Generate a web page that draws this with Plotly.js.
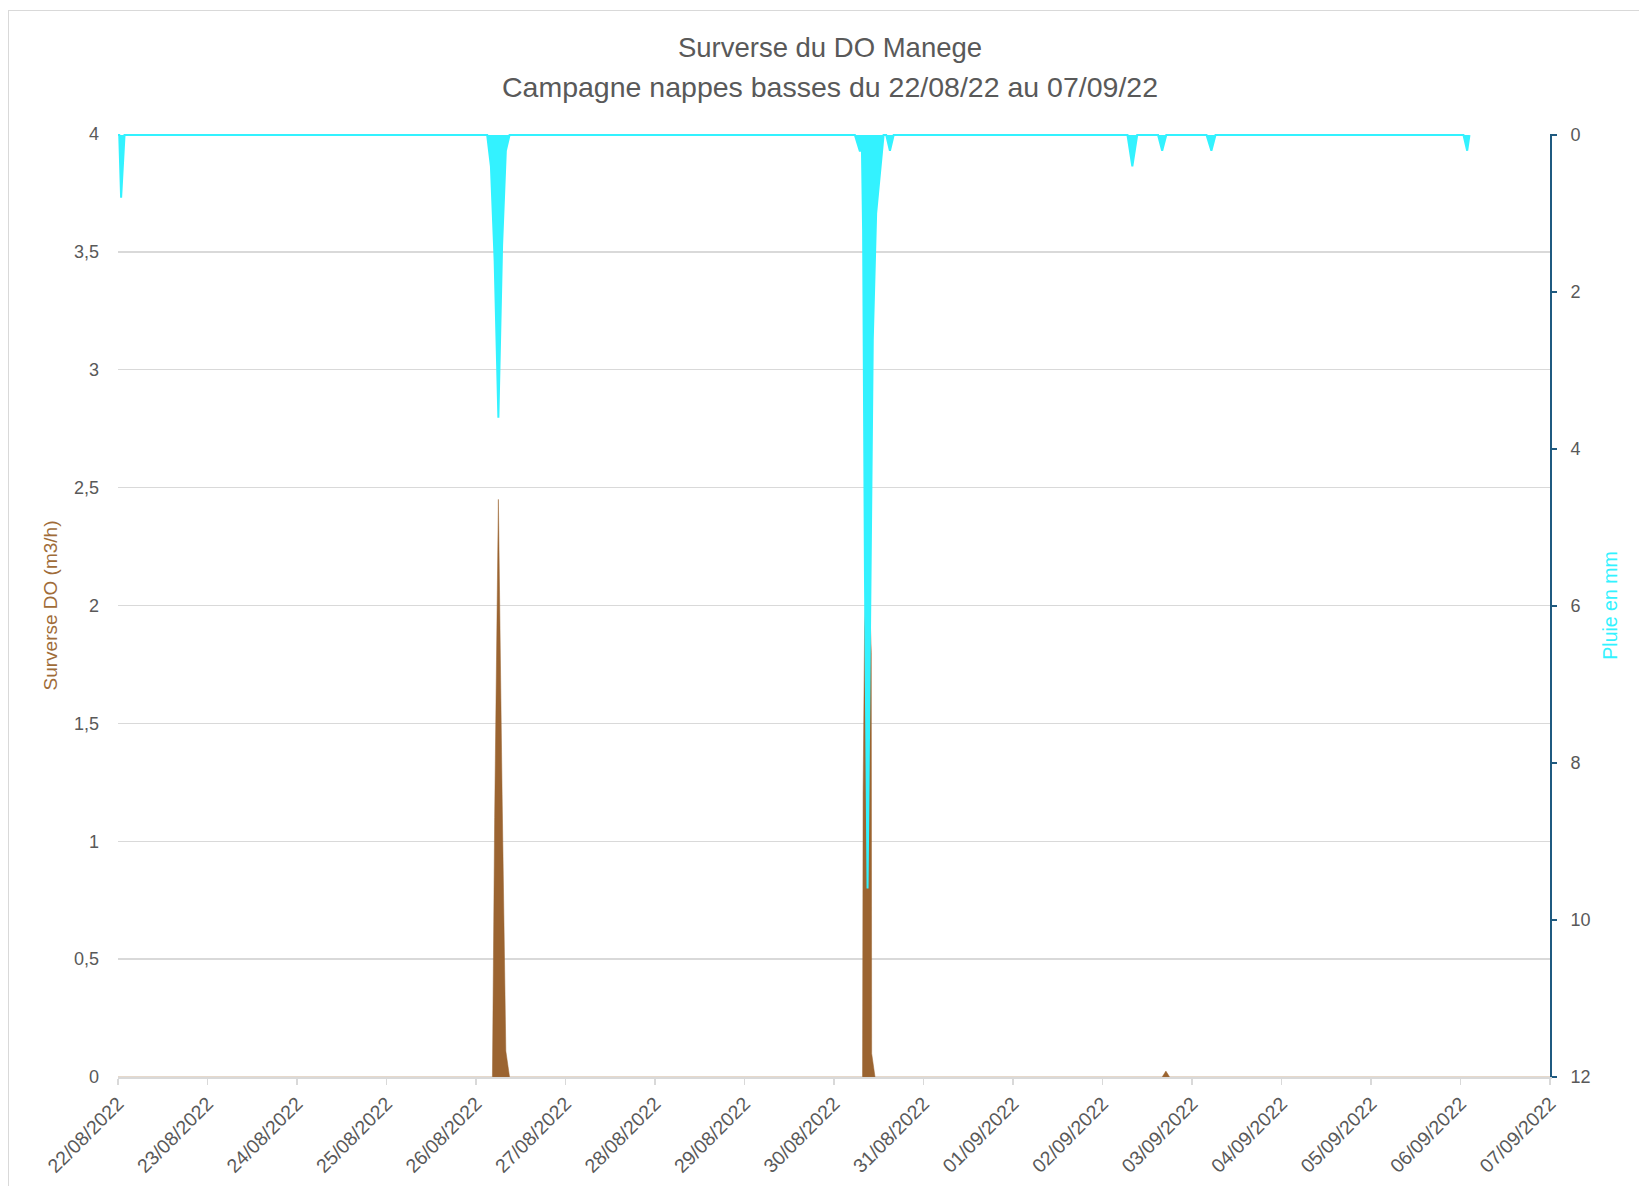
<!DOCTYPE html>
<html>
<head>
<meta charset="utf-8">
<script src="https://cdn.plot.ly/plotly-3.0.1.min.js"></script>
<style>
  html, body { margin: 0; padding: 0; background: #ffffff; overflow: hidden; }
  #frame { position: absolute; left: 8px; top: 10px; width: 1700px; height: 1300px; border: 1.5px solid #d9d9d9; box-sizing: border-box; }
  #chart { position: absolute; left: 0; top: 0; width: 1639px; height: 1186px; }
</style>
</head>
<body>
<div id="frame"></div>
<div id="chart"></div>
<script>
// ---- Data ----
// Rain (mm), right axis (reversed)
const rainTime = [
  '2022-08-22 00:00', '2022-08-22 00:20', '2022-08-22 00:50', '2022-08-22 01:45',
  '2022-08-26 03:00', '2022-08-26 04:00', '2022-08-26 05:00', '2022-08-26 06:00',
  '2022-08-26 07:00', '2022-08-26 08:00', '2022-08-26 09:00',
  '2022-08-30 05:36', '2022-08-30 06:54', '2022-08-30 07:30', '2022-08-30 07:48', '2022-08-30 08:18',
  '2022-08-30 09:00', '2022-08-30 10:00', '2022-08-30 10:24', '2022-08-30 11:18',
  '2022-08-30 13:18', '2022-08-30 14:00', '2022-08-30 15:00', '2022-08-30 16:00',
  '2022-09-02 06:42', '2022-09-02 08:00', '2022-09-02 09:18',
  '2022-09-02 14:54', '2022-09-02 16:00', '2022-09-02 17:06',
  '2022-09-03 03:54', '2022-09-03 05:12', '2022-09-03 06:18',
  '2022-09-06 00:48', '2022-09-06 01:48', '2022-09-06 02:24'
];
const rainMm = [
  0, 0, 0.8, 0,
  0, 0.4, 1.6, 3.6,
  1.4, 0.2, 0,
  0, 0.2, 0.2, 1.2, 5.6,
  9.6, 4.4, 2.6, 1.0,
  0, 0, 0.2, 0,
  0, 0.4, 0,
  0, 0.2, 0,
  0, 0.2, 0,
  0, 0.2, 0
];

// DO overflow (m3/h), left axis
const overflowTime = [
  '2022-08-22 00:00',
  '2022-08-26 04:24', '2022-08-26 05:00', '2022-08-26 06:00', '2022-08-26 07:00',
  '2022-08-26 08:00', '2022-08-26 09:00',
  '2022-08-30 07:39', '2022-08-30 07:48', '2022-08-30 08:12', '2022-08-30 09:00',
  '2022-08-30 10:00', '2022-08-30 10:06', '2022-08-30 11:00',
  '2022-09-02 16:00', '2022-09-02 17:00', '2022-09-02 18:00',
  '2022-09-07 00:00'
];
const overflowM3h = [
  0,
  0, 1.1, 2.45, 1.2,
  0.11, 0,
  0, 1.2, 1.9, 2.3,
  1.8, 0.1, 0,
  0, 0.025, 0,
  0
];

const titleLine1 = 'Surverse du DO Manege';
const titleLine2 = 'Campagne nappes basses du 22/08/22 au 07/09/22';
const leftAxisTitle = 'Surverse DO (m3/h)';
const rightAxisTitle = 'Pluie en mm';

// ---- Styles ----
const FONT = '"Liberation Sans", Arial, sans-serif';
const GREY_TEXT = '#595959';
const GRID = '#d9d9d9';
const BROWN = '#9b6431';
const CYAN = '#33f2ff';
const RIGHT_AXIS = '#1f5a80';

const traces = [
  {
    x: overflowTime, y: overflowM3h, type: 'scatter', mode: 'lines',
    fill: 'tozeroy', fillcolor: BROWN, line: { color: BROWN, width: 0.5 },
    yaxis: 'y', hoverinfo: 'skip', showlegend: false
  },
  {
    x: rainTime, y: rainMm, type: 'scatter', mode: 'lines',
    fill: 'tozeroy', fillcolor: CYAN, line: { color: CYAN, width: 2 },
    yaxis: 'y2', hoverinfo: 'skip', showlegend: false
  }
];

const layout = {
  width: 1639, height: 1186,
  margin: { l: 118, r: 89, t: 134, b: 109 },
  paper_bgcolor: 'rgba(0,0,0,0)', plot_bgcolor: 'rgba(0,0,0,0)',
  separators: ', ',
  showlegend: false,
  font: { family: FONT, color: GREY_TEXT, size: 18 },
  title: {
    text: titleLine1, xref: 'container', x: 0.5064, xanchor: 'center',
    yref: 'container', y: 1 - 47 / 1186, yanchor: 'middle',
    font: { family: FONT, size: 27.5, color: GREY_TEXT }
  },
  annotations: [{
    text: titleLine2, xref: 'paper', yref: 'paper',
    x: (830 - 118) / 1432, y: (1077 - 87) / 943, xanchor: 'center', yanchor: 'middle',
    showarrow: false, font: { family: FONT, size: 28.5, color: GREY_TEXT }
  }],
  xaxis: {
    type: 'date', range: ['2022-08-22 00:00', '2022-09-07 00:00'],
    dtick: 86400000, tick0: '2022-08-22', tickformat: '%d/%m/%Y', tickangle: -45,
    ticks: 'outside', ticklen: 6, tickwidth: 1.5, tickcolor: GRID,
    showline: true, linecolor: GRID, linewidth: 1.5,
    showgrid: false, zeroline: false,
    tickfont: { family: FONT, size: 19.5, color: GREY_TEXT }
  },
  yaxis: {
    range: [0, 4], dtick: 0.5, tick0: 0,
    showgrid: true, gridcolor: GRID, gridwidth: 1.3,
    zeroline: false, showline: false, ticks: '',
    ticklabelstandoff: 18,
    tickfont: { family: FONT, size: 18, color: GREY_TEXT },
    title: { text: leftAxisTitle, standoff: 11, font: { family: FONT, size: 19, color: '#a06c38' } }
  },
  yaxis2: {
    overlaying: 'y', side: 'right', range: [12, -0.013],
    tickvals: [0, 2, 4, 6, 8, 10, 12],
    showgrid: false, zeroline: false,
    showline: true, linecolor: RIGHT_AXIS, linewidth: 2,
    ticks: 'outside', ticklen: 5, tickwidth: 2, tickcolor: RIGHT_AXIS,
    ticklabelstandoff: 10,
    tickfont: { family: FONT, size: 18, color: GREY_TEXT },
    title: { text: rightAxisTitle, standoff: 14, font: { family: FONT, size: 19.5, color: CYAN } }
  }
};

Plotly.newPlot('chart', traces, layout, { displayModeBar: false, staticPlot: true });
</script>
</body>
</html>
